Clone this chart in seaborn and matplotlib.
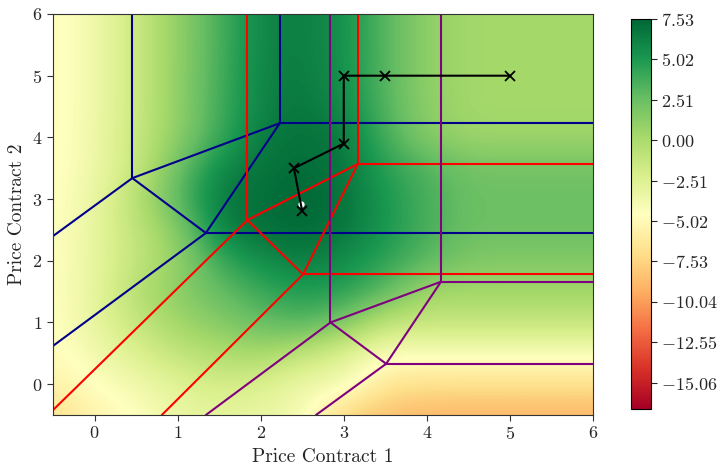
import numpy as np
import matplotlib
matplotlib.use("Agg")
import matplotlib.pyplot as plt
import seaborn as sns
from matplotlib.ticker import FuncFormatter

sns.set_style("ticks")
plt.rcParams["font.family"] = "serif"
plt.rcParams["font.serif"] = ["cmr10", "DejaVu Serif"]
plt.rcParams["mathtext.fontset"] = "cm"
plt.rcParams["axes.formatter.use_mathtext"] = True

# ---- data -------------------------------------------------------------
x_grid = [-0.5, 0, 0.5, 1, 1.5, 2, 2.5, 3, 3.5, 4, 4.5, 5, 5.5, 6]
y_grid = [6, 5.5, 5, 4.5, 4, 3.5, 3, 2.5, 2, 1.5, 1, 0.5, 0, -0.5]
profit = [
    [-5.0, -3.7, -1.5, 1.0, 3.6, 6.0, 6.5, 5.4, 3.2, 1.0, 0.3, 0.3, 0.3, 0.3],
    [-5.0, -3.7, -1.5, 1.0, 3.6, 6.0, 6.5, 5.4, 3.2, 1.0, 0.3, 0.3, 0.3, 0.3],
    [-5.0, -3.7, -1.5, 1.0, 3.7, 6.1, 6.6, 5.5, 3.2, 1.0, 0.3, 0.3, 0.3, 0.3],
    [-5.0, -3.7, -1.5, 1.0, 3.8, 6.2, 6.8, 5.8, 3.3, 1.1, 0.3, 0.3, 0.3, 0.3],
    [-5.0, -3.6, -1.4, 1.1, 4.0, 6.5, 7.1, 6.6, 3.7, 1.4, 0.5, 0.5, 0.5, 0.5],
    [-4.9, -3.6, -1.4, 2.3, 5.9, 6.9, 7.3, 6.8, 4.6, 3.4, 2.2, 2.2, 2.2, 2.2],
    [-4.8, -3.4, -0.5, 3.0, 6.6, 7.1, 7.5, 7.0, 5.1, 3.6, 2.4, 2.4, 2.4, 2.4],
    [-4.8, -3.1, -1.0, 1.3, 6.3, 7.1, 7.4, 6.9, 5.1, 3.7, 2.4, 2.4, 2.4, 2.4],
    [-4.7, -3.2, -1.1, 0.8, 4.0, 5.6, 6.5, 5.7, 4.5, 3.1, 1.7, 1.7, 1.7, 1.7],
    [-4.7, -3.1, -0.4, 1.3, 2.6, 4.1, 4.9, 4.7, 3.0, 0.3, 0.4, 0.4, 0.4, 0.4],
    [-4.8, -3.1, -1.2, 0.5, 1.5, 2.6, 3.5, 2.0, -1.0, -1.1, -1.1, -1.1, -1.1, -1.1],
    [-5.0, -3.8, -2.4, -1.0, -0.2, 0.4, -1.0, -2.5, -4.3, -4.2, -4.2, -4.2, -4.2, -4.2],
    [-5.6, -4.6, -3.7, -2.7, -1.8, -2.3, -3.5, -3.6, -6.6, -6.9, -6.9, -6.9, -6.9, -6.9],
    [-7.0, -5.4, -4.7, -3.3, -3.0, -3.3, -3.9, -7.8, -8.6, -9.0, -9.0, -9.0, -9.0, -9.0],
]
vmin, vmax = -16.7, 7.53
cbar_ticks = [7.53, 5.02, 2.51, 0.0, -2.51, -5.02, -7.53, -10.04, -12.55, -15.06]

# region boundaries (segments: x0, y0, x1, y1)
blue_segments = [
    (0.455, 6.0, 0.455, 3.34), (0.455, 3.34, -0.5, 2.40), (0.455, 3.34, 2.23, 4.23),
    (0.455, 3.34, 1.34, 2.45), (1.34, 2.45, 2.23, 4.23), (2.23, 4.23, 2.23, 6.0),
    (2.23, 4.23, 6.0, 4.23), (1.34, 2.45, 6.0, 2.45), (1.34, 2.45, -0.5, 0.62),
]
red_segments = [
    (1.84, 6.0, 1.84, 2.66), (1.84, 2.66, 3.17, 3.57), (3.17, 3.57, 3.17, 6.0),
    (3.17, 3.57, 6.0, 3.57), (1.84, 2.66, -0.5, -0.42), (1.84, 2.66, 2.51, 1.78),
    (2.51, 1.78, 3.17, 3.57), (2.51, 1.78, 6.0, 1.78), (2.51, 1.78, 0.81, -0.5),
]
purple_segments = [
    (2.84, 6.0, 2.84, 1.0), (4.17, 6.0, 4.17, 1.66), (2.84, 1.0, 4.17, 1.66),
    (2.84, 1.0, 3.51, 0.33), (4.17, 1.66, 3.51, 0.33), (4.17, 1.66, 6.0, 1.66),
    (3.51, 0.33, 6.0, 0.33), (2.84, 1.0, 1.34, -0.5), (3.51, 0.33, 2.665, -0.5),
]
path_x = [5.0, 3.5, 3.0, 3.0, 2.4, 2.5]
path_y = [5.0, 5.0, 5.0, 3.9, 3.5, 2.8]
opt_x = [2.48]
opt_y = [2.92]

# ---- figure -------------------------------------------------------------
fig = plt.figure(figsize=(7.23, 4.69), dpi=100)
ax = fig.add_axes([53 / 723, 54 / 469, 540 / 723, 401 / 469])
cax = fig.add_axes([631 / 723, 60 / 469, 20 / 723, 390 / 469])

cmap = sns.color_palette("RdYlGn", as_cmap=True)
dx = 0.25
im = ax.imshow(np.array(profit), extent=[x_grid[0] - dx, x_grid[-1] + dx,
                                         y_grid[-1] - dx, y_grid[0] + dx],
               origin="upper", aspect="auto", cmap=cmap, vmin=vmin, vmax=vmax,
               interpolation="bicubic", zorder=0)

for segs, col in [(blue_segments, "darkblue"), (red_segments, "red"),
                  (purple_segments, "purple")]:
    for (x0, y0, x1, y1) in segs:
        ax.plot([x0, x1], [y0, y1], color=col, lw=1.5, zorder=2)

sns.lineplot(x=path_x, y=path_y, sort=False, estimator=None, ax=ax,
             color="black", lw=1.5, marker="x", markersize=7,
             markeredgecolor="black", markeredgewidth=1.3, zorder=3)
ax.plot(opt_x, opt_y, "o", color="white", markersize=3.5, zorder=2.5)

ax.set_xlim(-0.5, 6)
ax.set_ylim(-0.5, 6)
ax.set_xticks([0, 1, 2, 3, 4, 5, 6])
ax.set_yticks([0, 1, 2, 3, 4, 5, 6])
ax.tick_params(labelsize=13, length=4, color="#333333")
ax.set_xlabel("Price Contract 1", fontsize=14)
ax.set_ylabel("Price Contract 2", fontsize=14)
for s in ax.spines.values():
    s.set_color("#333333")

cb = fig.colorbar(im, cax=cax, ticks=cbar_ticks)
cb.ax.yaxis.set_major_formatter(FuncFormatter(lambda v, p: f"${v:.2f}$"))
cb.ax.tick_params(labelsize=13, length=4)
cb.outline.set_edgecolor("black")

fig.savefig("out.png", dpi=100)
